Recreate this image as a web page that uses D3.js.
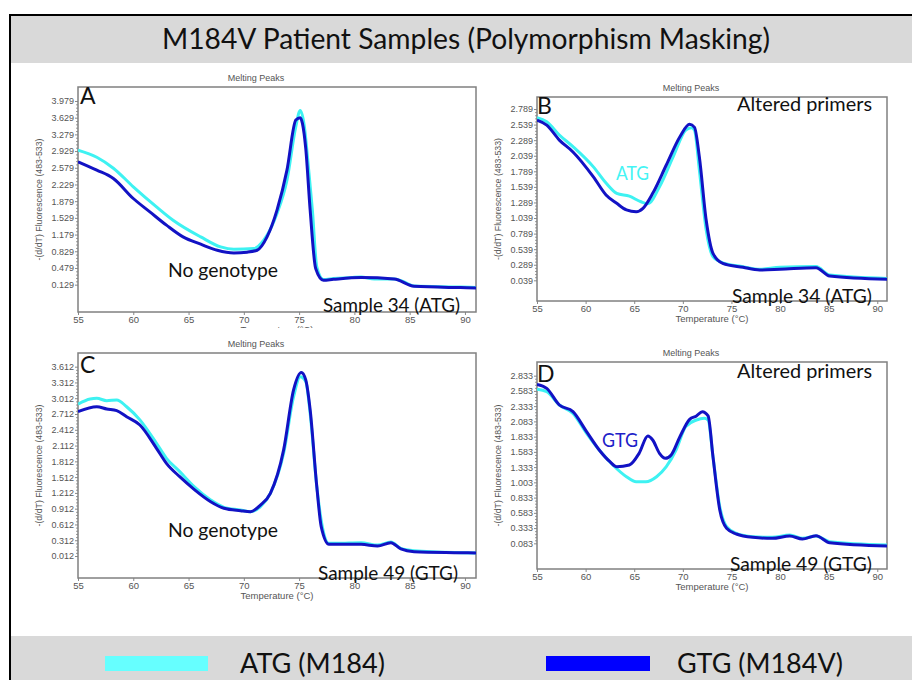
<!DOCTYPE html>
<html><head><meta charset="utf-8">
<script src="https://cdn.jsdelivr.net/npm/d3@7"></script>
<style>body{margin:0;background:#fff}svg{display:block}</style>
</head><body>
<svg id="chart" width="912" height="680"></svg>
<script>
// ---------- DATA ----------
const chartTitle = "M184V Patient Samples (Polymorphism Masking)";
const seriesNames = ["ATG (M184)", "GTG (M184V)"];
const xTicks = [55, 60, 65, 70, 75, 80, 85, 90];

// Panel A
const tA_atg = [55,56.7,58.2,60,62.1,63.6,66.1,67.9,69.1,70.9,71.8,73,73.9,74.7,75.1,75.5,75.7,76.2,76.6,77.2,78.1,79.7,80.6,81.8,83.6,84.5,85.4,89.6,91];
const vA_atg = [2.95,2.80,2.57,2.18,1.76,1.48,1.13,0.92,0.87,0.886,1.06,1.62,2.32,3.44,3.78,3.40,2.95,1.69,0.50,0.235,0.256,0.277,0.29,0.25,0.25,0.186,0.10,0.08,0.07];
const tA_gtg = [55,56.7,58.2,60,61.5,63,64.5,66.1,67.6,69.1,70.3,71.2,72.1,73,73.9,74.7,75.1,75.3,75.6,76.0,76.5,77.2,78.1,80.6,83.6,85.4,89.6,91];
const vA_gtg = [2.705,2.53,2.355,1.935,1.655,1.376,1.13,0.977,0.85,0.795,0.81,0.85,1.13,1.69,2.53,3.58,3.63,3.51,2.985,1.69,0.466,0.221,0.24,0.277,0.25,0.095,0.067,0.06];
const yTicksA = [3.979,3.629,3.279,2.929,2.579,2.229,1.879,1.529,1.179,0.829,0.479,0.129];
const yLabelsA = ["3.979","3.629","3.279","2.929","2.579","2.229","1.879","1.529","1.179","0.829","0.479","0.129"];

// Panel B
const tB_atg = [55,56,57.3,58.7,60.8,62.1,63.2,64.5,65.7,66.4,67.6,69.0,70.3,70.9,71.2,71.7,72.4,73.1,74.1,76.2,77.9,80,83.7,85.1,91];
const vB_atg = [2.65,2.586,2.372,2.185,1.86,1.60,1.435,1.39,1.30,1.27,1.54,2.02,2.45,2.49,2.45,1.81,0.85,0.42,0.32,0.258,0.216,0.25,0.26,0.125,0.07];
const tB_gtg = [55,56,57.3,58.7,60.8,62.1,63.2,64.2,65.2,65.9,66.9,68.3,69.7,70.7,71.2,71.7,72.4,73.1,74.1,76.2,77.9,80,83.7,85.1,91];
const vB_gtg = [2.61,2.53,2.29,2.10,1.70,1.41,1.275,1.17,1.14,1.195,1.435,1.89,2.345,2.543,2.495,2.02,1.007,0.473,0.312,0.248,0.205,0.216,0.242,0.108,0.055];
const yTicksB = [2.789,2.539,2.289,2.039,1.789,1.539,1.289,1.039,0.789,0.539,0.289,0.039];
const yLabelsB = ["2.789","2.539","2.289","2.039","1.789","1.539","1.289","1.039","0.789","0.539","0.289","0.039"];

// Panel C
const tC_atg = [55,56.1,56.7,57.6,58.5,59.4,60.6,62.1,63.0,64.2,65.5,67,68.2,69.7,70.6,71.5,72.4,73.6,74.5,75.1,75.6,76.0,76.6,77.1,77.7,78.4,80.6,82.1,83.3,84.2,85.4,89.6,91];
const vC_atg = [2.90,2.997,3.01,2.966,2.98,2.85,2.60,2.155,1.87,1.616,1.33,1.077,0.938,0.887,0.855,0.95,1.204,1.965,3.04,3.42,3.33,2.72,1.33,0.57,0.253,0.253,0.266,0.22,0.278,0.158,0.114,0.076,0.07];
const tC_gtg = [55,56.7,57.6,58.5,59.4,60.6,62.1,63.0,64.2,65.5,67,68.2,69.7,70.6,71.5,72.4,73.6,74.5,75.2,75.6,76.0,76.6,77.0,77.7,78.4,80.6,82.1,83.3,84.2,85.4,89.6,91];
const vC_gtg = [2.757,2.85,2.807,2.775,2.66,2.503,2.06,1.774,1.52,1.28,1.045,0.92,0.874,0.855,0.98,1.204,2.03,3.17,3.50,3.36,2.79,1.33,0.57,0.234,0.234,0.234,0.203,0.266,0.146,0.095,0.076,0.07];
const yTicksC = [3.612,3.312,3.012,2.712,2.412,2.112,1.812,1.512,1.212,0.912,0.612,0.312,0.012];
const yLabelsC = ["3.612","3.312","3.012","2.712","2.412","2.112","1.812","1.512","1.212","0.912","0.612","0.312","0.012"];

// Panel D
const tD_atg = [55,56,57.3,58.7,60.1,61.4,62.8,64.2,65.2,66.2,67.3,68.3,69.3,70.3,71.4,72.2,72.6,73.1,73.8,74.5,75.5,77.2,79.2,81,82.3,83.7,85.1,91];
const vD_atg = [2.609,2.57,2.352,2.215,1.887,1.614,1.368,1.176,1.094,1.094,1.176,1.34,1.614,1.997,2.106,2.133,2.106,1.505,0.684,0.356,0.247,0.192,0.181,0.22,0.165,0.203,0.11,0.055];
const tD_gtg = [55,56,57.3,58.7,60.1,61.4,62.5,63.2,64.5,65.5,66.4,66.9,67.6,68.2,68.8,69.7,70.7,71.4,72.0,72.6,73.1,73.8,74.5,75.5,77.2,79.2,81,82.3,83.7,85.1,91];
const vD_gtg = [2.69,2.625,2.352,2.243,1.915,1.614,1.422,1.34,1.368,1.559,1.843,1.778,1.559,1.477,1.532,1.832,2.117,2.172,2.243,2.172,1.505,0.63,0.33,0.236,0.181,0.165,0.203,0.154,0.208,0.094,0.039];
const yTicksD = [2.833,2.583,2.333,2.083,1.833,1.583,1.333,1.083,0.833,0.583,0.333,0.083];
const yLabelsD = ["2.833","2.583","2.333","2.083","1.833","1.583","1.333","1.003","0.833","0.583","0.333","0.083"];

// ---------- DRAWING ----------
const svg = d3.select("#chart");
const ANN = "Lato, 'Open Sans', sans-serif";
const SMALL = "'Liberation Sans', Arial, sans-serif";
const C_ATG = "#3ef2f2", C_GTG = "#1212c4";

// frame and bands
svg.append("rect").attr("x",11).attr("y",16).attr("width",901).attr("height",47).attr("fill","#d9d9d9");
svg.append("rect").attr("x",11).attr("y",636).attr("width",901).attr("height",44).attr("fill","#d9d9d9");
svg.append("line").attr("x1",10).attr("x2",912).attr("y1",15).attr("y2",15).attr("stroke","#000").attr("stroke-width",2);
svg.append("line").attr("x1",10).attr("x2",10).attr("y1",14).attr("y2",680).attr("stroke","#000").attr("stroke-width",2);

svg.append("text").attr("x",162).attr("y",49).attr("font-family",ANN).attr("font-size",29)
  .attr("textLength",608).attr("lengthAdjust","spacingAndGlyphs").attr("fill","#111").text(chartTitle);

const zip = (t,v) => t.map((d,i)=>({t:d,v:v[i]}));

const panels = [
  {id:"A", box:[78,476,87,312], yd:[-0.444,4.272], yt:yTicksA, yl:yLabelsA,
   atg:zip(tA_atg,vA_atg), gtg:zip(tA_gtg,vA_gtg), clipBottom:328,
   letter:[80,104],
   texts:[{s:"No genotype",x:168,y:277,w:110,c:"#111"},{s:"Sample 34 (ATG)",x:323,y:312,w:137,c:"#111"}]},
  {id:"B", box:[537,887,97,301], yd:[-0.293,2.982], yt:yTicksB, yl:yLabelsB,
   atg:zip(tB_atg,vB_atg), gtg:zip(tB_gtg,vB_gtg), clipBottom:680,
   letter:[537,114],
   texts:[{s:"Altered primers",x:737,y:111,w:135,c:"#111"},{s:"ATG",x:616,y:180,w:33,c:"#44f4f4"},{s:"Sample 34 (ATG)",x:732,y:303,w:140,c:"#111"}]},
  {id:"C", box:[78,476,353,578], yd:[-0.406,3.872], yt:yTicksC, yl:yLabelsC,
   atg:zip(tC_atg,vC_atg), gtg:zip(tC_gtg,vC_gtg), clipBottom:680,
   letter:[80,373],
   texts:[{s:"No genotype",x:168,y:537,w:110,c:"#111"},{s:"Sample 49 (GTG)",x:318,y:580,w:140,c:"#111"}]},
  {id:"D", box:[537,887,362,569], yd:[-0.338,3.057], yt:yTicksD, yl:yLabelsD,
   atg:zip(tD_atg,vD_atg), gtg:zip(tD_gtg,vD_gtg), clipBottom:680,
   letter:[537,382],
   texts:[{s:"Altered primers",x:737,y:378,w:135,c:"#111"},{s:"GTG",x:602,y:447,w:36,c:"#2020c8"},{s:"Sample 49 (GTG)",x:730,y:571,w:142,c:"#111"}]}
];

const defs = svg.append("defs");

panels.forEach(p => {
  const [x0,x1,y0,y1] = p.box;
  const x = d3.scaleLinear().domain([55,91]).range([x0,x1]);
  const y = d3.scaleLinear().domain(p.yd).range([y1,y0]);
  const g = svg.append("g");

  defs.append("clipPath").attr("id","clip"+p.id).append("rect")
    .attr("x",x0).attr("y",y0).attr("width",x1-x0).attr("height",y1-y0);
  defs.append("clipPath").attr("id","clipL"+p.id).append("rect")
    .attr("x",0).attr("y",0).attr("width",912).attr("height",p.clipBottom);

  // Title
  g.append("text").attr("x",(x0+x1)/2-21).attr("y",y0-6).attr("text-anchor","middle")
    .attr("font-family",SMALL).attr("font-size",9).attr("fill","#555").text("Melting Peaks");

  // y axis ticks (minor)
  const step = p.yt[0]-p.yt[1];
  const minor = [];
  for (let i=0;i<p.yt.length-1;i++) for (let k=1;k<5;k++) minor.push(p.yt[i+1]+step*k/5);
  const yAxisMinor = d3.axisLeft(y).tickValues(minor).tickSize(2).tickFormat("");
  g.append("g").attr("transform",`translate(${x0},0)`).call(yAxisMinor)
    .call(s=>s.select(".domain").remove()).selectAll("line").attr("stroke","#999");

  const yAxis = d3.axisLeft(y).tickValues(p.yt).tickSize(3).tickPadding(1)
    .tickFormat((d,i)=>p.yl[i]);
  const ya = g.append("g").attr("transform",`translate(${x0},0)`).call(yAxis);
  ya.select(".domain").remove();
  ya.selectAll("line").attr("stroke","#888");
  ya.selectAll("text").attr("font-family",SMALL).attr("font-size",9).attr("fill","#555");

  const xAxis = d3.axisBottom(x).tickValues(xTicks).tickSize(3).tickPadding(1).tickFormat(d3.format("d"));
  const xa = g.append("g").attr("transform",`translate(0,${y1})`).call(xAxis);
  xa.select(".domain").remove();
  xa.selectAll("line").attr("stroke","#888");
  xa.selectAll("text").attr("font-family",SMALL).attr("font-size",9.5).attr("fill","#555");

  // axis labels
  g.append("text").attr("transform",`translate(${x0-36},${(y0+y1)/2}) rotate(-90)`)
    .attr("text-anchor","middle").attr("font-family",SMALL).attr("font-size",9.5).attr("fill","#555")
    .attr("textLength",122).attr("lengthAdjust","spacingAndGlyphs")
    .text("-(d/dT) Fluorescence (483-533)");
  g.append("text").attr("x",(x0+x1)/2).attr("y",y1+21).attr("text-anchor","middle")
    .attr("clip-path",`url(#clipL${p.id})`)
    .attr("font-family",SMALL).attr("font-size",9.5).attr("fill","#555").text("Temperature (°C)");

  // box
  g.append("rect").attr("x",x0).attr("y",y0).attr("width",x1-x0).attr("height",y1-y0)
    .attr("fill","none").attr("stroke","#808080").attr("stroke-width",1.5);

  // lines
  const line = d3.line().x(d=>x(d.t)).y(d=>y(d.v)).curve(d3.curveMonotoneX);
  const lg = g.append("g").attr("clip-path",`url(#clip${p.id})`);
  lg.append("path").attr("d",line(p.atg)).attr("fill","none").attr("stroke",C_ATG)
    .attr("stroke-width",3).attr("stroke-linejoin","round");
  lg.append("path").attr("d",line(p.gtg)).attr("fill","none").attr("stroke",C_GTG)
    .attr("stroke-width",3).attr("stroke-linejoin","round");

  // annotations
  g.append("text").attr("x",p.letter[0]).attr("y",p.letter[1]).attr("font-family",ANN)
    .attr("font-size",23).attr("fill","#111").text(p.id);
  p.texts.forEach(t => {
    g.append("text").attr("x",t.x).attr("y",t.y).attr("font-family",ANN).attr("font-size",20)
      .attr("fill",t.c).attr("textLength",t.w).attr("lengthAdjust","spacingAndGlyphs").text(t.s);
  });
});

// legend
const legend = [
  {name:seriesNames[0], color:"#66ffff", sx:105, sw:103, tx:240, tw:145},
  {name:seriesNames[1], color:"#0000ff", sx:546, sw:104, tx:677, tw:166}
];
const lgG = svg.append("g");
legend.forEach(l => {
  lgG.append("rect").attr("x",l.sx).attr("y",656).attr("width",l.sw).attr("height",15).attr("fill",l.color);
  lgG.append("text").attr("x",l.tx).attr("y",673).attr("font-family",ANN).attr("font-size",27)
    .attr("fill","#111").attr("textLength",l.tw).attr("lengthAdjust","spacingAndGlyphs").text(l.name);
});
</script>
</body></html>
